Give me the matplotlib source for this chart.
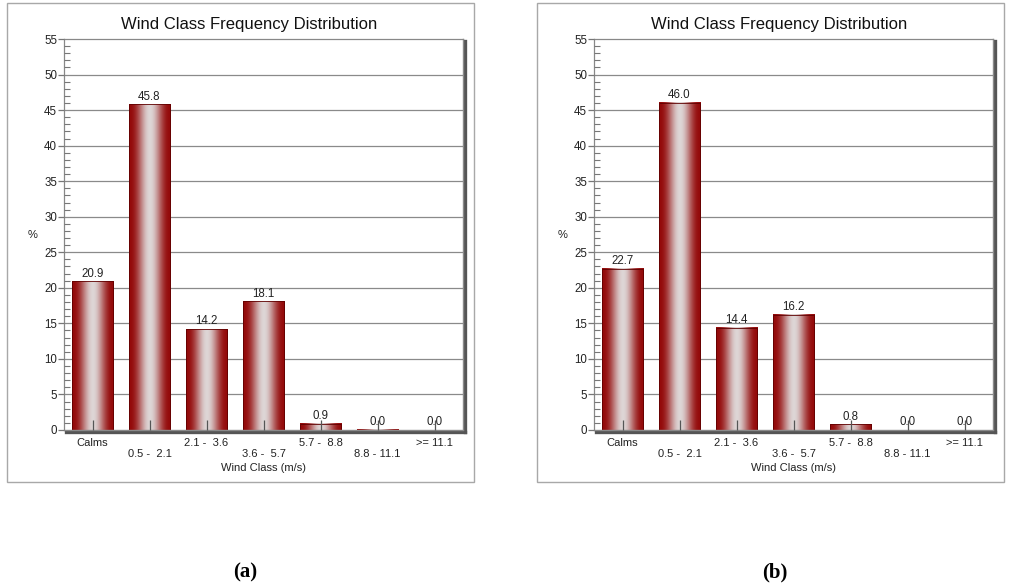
import numpy as np
import matplotlib
matplotlib.use("Agg")
import matplotlib.pyplot as plt
from matplotlib.patches import Rectangle
from matplotlib import patheffects as pe
from matplotlib.ticker import MultipleLocator

plt.rcParams['font.family'] = ['Liberation Sans', 'DejaVu Sans']

# data
wind_classes = ["Calms", "0.5 -  2.1", "2.1 -  3.6", "3.6 -  5.7",
                "5.7 -  8.8", "8.8 - 11.1", ">= 11.1"]
freq_a = [20.9, 45.8, 14.2, 18.1, 0.9, 0.04, 0.0]
freq_b = [22.7, 46.0, 14.4, 16.2, 0.8, 0.0, 0.0]
panel_tags = ["(a)", "(b)"]

W, H = 1011, 587
fig = plt.figure(figsize=(W / 100, H / 100), dpi=100)

# horizontal "cylinder" shading of the bars
dark = np.array([0.58, 0.04, 0.04])
light = np.array([0.87, 0.84, 0.84])
t = np.linspace(0, 1, 80)
w = np.sin(np.pi * t) ** 2.4
grad = (dark[None, :] * (1 - w[:, None]) + light[None, :] * w[:, None])[None, :, :]


def panel(x0, values, tag):
    # outer frame
    fig.add_artist(Rectangle((x0 / W, 1 - 482 / H), 467 / W, 479 / H,
                             transform=fig.transFigure, fill=False,
                             edgecolor='#a8a8a8', lw=1))
    ax = fig.add_axes([(x0 + 57) / W, 1 - 430 / H, 399 / W, 391 / H])
    x = np.arange(len(values))
    bars = ax.bar(x, values, width=0.72, facecolor='none',
                  edgecolor='#600000', lw=0.6, zorder=1.3)
    for b in bars:
        bx, by, bw, bh = b.get_x(), b.get_y(), b.get_width(), b.get_height()
        if bh <= 0:
            continue
        ax.imshow(grad, extent=[bx, bx + bw, by, by + bh], aspect='auto',
                  clip_path=b, zorder=1.2, interpolation='bilinear')
    for xi, v in zip(x, values):
        ax.annotate(f"{v:.1f}", (xi, v), xytext=(0, 1.2), textcoords='offset points',
                    ha='center', va='bottom', fontsize=8.3, color='#222222')

    ax.set_xlim(-0.5, len(values) - 0.5)
    ax.set_ylim(0, 55)
    ax.yaxis.set_major_locator(MultipleLocator(5))
    ax.yaxis.set_minor_locator(MultipleLocator(1))
    for yv in np.arange(5, 55, 5):
        ax.axhline(yv, color='#8a8a8a', lw=0.9, zorder=0.5)

    ax.set_xticks(x)
    ax.set_xticklabels([lab if i % 2 == 0 else "\n" + lab
                        for i, lab in enumerate(wind_classes)])
    for lab in ax.get_xticklabels():
        lab.set_linespacing(1.05)
    ax.tick_params(axis='x', direction='in', length=7, width=0.9,
                   color='#555555', labelsize=8, labelcolor='#222222', pad=6)
    ax.tick_params(axis='y', which='major', direction='out', length=4, width=0.9,
                   color='#777777', labelsize=8.3, labelcolor='#222222', pad=1)
    ax.tick_params(axis='y', which='minor', direction='in', length=4, width=0.8,
                   color='#777777')
    ax.set_axisbelow(False)

    for s in ['left', 'top']:
        ax.spines[s].set_color('#888888')
        ax.spines[s].set_linewidth(0.9)
    for s in ['right', 'bottom']:
        ax.spines[s].set_color('#8a8a8a')
        ax.spines[s].set_linewidth(1.0)
        ax.spines[s].set_path_effects([
            pe.SimpleLineShadow(offset=(1.6, -1.6), shadow_color='#555555',
                                alpha=1.0, linewidth=2.4),
            pe.Normal()])

    ax.set_xlabel("Wind Class (m/s)", fontsize=8, color='#222222', va='top')
    ax.xaxis.set_label_coords(0.5, -33 / 391)
    fig.text((x0 + 26) / W, 1 - 235 / H, "%", fontsize=8, color='#222222',
             ha='center', va='center')
    fig.text((x0 + 242) / W, 1 - 24 / H, "Wind Class Frequency Distribution",
             fontsize=12, color='#111111', ha='center', va='center')
    fig.text((x0 + 238) / W, 1 - 572 / H, tag, fontsize=15, fontweight='bold',
             family='Liberation Serif', ha='center', va='center')
    return ax


panel(7, freq_a, panel_tags[0])
panel(537, freq_b, panel_tags[1])

fig.savefig("out.png", dpi=100)
